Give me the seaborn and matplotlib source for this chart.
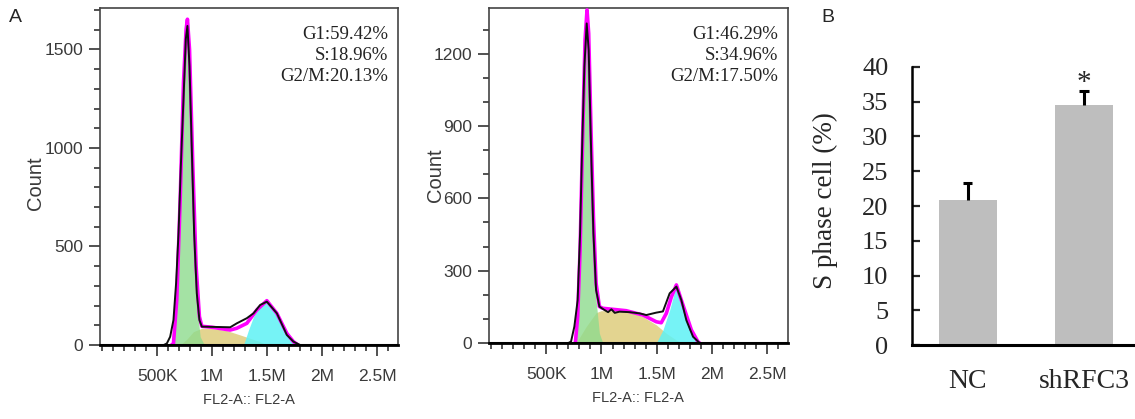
"""Cell cycle flow cytometry histograms (A) and S phase bar chart (B)."""
import numpy as np
import matplotlib

matplotlib.use("Agg")
import matplotlib.pyplot as plt
from matplotlib.ticker import MultipleLocator, FixedLocator
import seaborn as sns

sns.set_theme(style="white")
plt.rcParams["font.family"] = ["Liberation Sans", "DejaVu Sans"]

# ---- data (x in thousands of FL2-A units) ----
# NC histogram
NC_DATA_X = [-20, 560, 588, 618, 648, 672, 694, 715, 739, 760, 775, 794, 815, 836,
             860, 884, 906, 1000, 1164, 1224, 1315, 1376, 1436, 1497, 1588, 1679,
             1739, 1800, 2700]
NC_DATA_Y = [0, 0, 8, 42, 127, 314, 568, 907, 1246, 1551, 1619, 1415, 992, 568,
             263, 127, 93, 92, 90, 110, 136, 161, 203, 220, 161, 51, 17, 0, 0]
NC_FIT_X = [630, 648, 678, 709, 739, 763, 775, 794, 824, 854, 884, 906, 1000, 1164,
            1224, 1315, 1406, 1497, 1588, 1679, 1739, 1780]
NC_FIT_Y = [0, 8, 229, 737, 1330, 1602, 1653, 1500, 907, 398, 144, 95, 90, 76,
            85, 110, 178, 225, 161, 59, 17, 0]
NC_G1_X = [640, 660, 678, 709, 739, 763, 775, 794, 824, 845, 861, 891, 920, 950]
NC_G1_Y = [0, 60, 229, 737, 1330, 1602, 1650, 1500, 907, 500, 200, 42, 10, 0]
NC_S_X = [709, 770, 830, 906, 982, 1133, 1255, 1345, 1436, 1497]
NC_S_Y = [0, 30, 68, 85, 85, 73, 51, 34, 17, 0]
NC_G2_X = [1285, 1330, 1376, 1436, 1497, 1588, 1679, 1739, 1770]
NC_G2_Y = [0, 76, 144, 195, 220, 161, 59, 17, 0]
NC_STATS = ["G1:59.42%", "S:18.96%", "G2/M:20.13%"]

# shRFC3 histogram
SH_DATA_X = [-30, 700, 724, 754, 784, 806, 824, 845, 866, 884, 906, 927, 951, 981,
             1027, 1060, 1090, 1120, 1163, 1254, 1345, 1406, 1497, 1557, 1618,
             1679, 1724, 1769, 1830, 1890, 2700]
SH_DATA_Y = [0, 0, 6, 68, 178, 455, 801, 1146, 1326, 1216, 801, 455, 220, 151,
             137, 128, 140, 125, 130, 128, 123, 116, 126, 131, 206, 234, 178, 95,
             26, 0, 0]
SH_FIT_X = [763, 784, 806, 830, 851, 869, 884, 906, 927, 951, 981, 1012, 1224, 1376,
            1497, 1542, 1588, 1633, 1679, 1724, 1754, 1815, 1876, 1890]
SH_FIT_Y = [0, 109, 386, 870, 1257, 1382, 1285, 870, 524, 248, 151, 144, 134, 116,
            88, 84, 123, 190, 241, 178, 137, 54, 4, 0]
SH_G1_X = [739, 769, 784, 806, 830, 851, 869, 884, 906, 921, 951, 981, 1012]
SH_G1_Y = [0, 20, 109, 386, 870, 1257, 1370, 1285, 870, 455, 178, 40, 0]
SH_S_X = [770, 861, 952, 997, 1224, 1376, 1497, 1588, 1679, 1739]
SH_S_Y = [0, 68, 126, 134, 134, 109, 75, 40, 12, 0]
SH_G2_X = [1497, 1557, 1618, 1679, 1739, 1800, 1860, 1891]
SH_G2_Y = [0, 54, 137, 241, 165, 68, 14, 0]
SH_STATS = ["G1:46.29%", "S:34.96%", "G2/M:17.50%"]

X_TICKS = [500, 1000, 1500, 2000, 2500]
X_TICK_LABELS = ["500K", "1M", "1.5M", "2M", "2.5M"]

# panel B
GROUPS = ["NC", "shRFC3"]
S_PHASE = [20.9, 34.6]
S_PHASE_ERR = [2.4, 2.0]

GREEN, YELLOW, CYAN = "#8edb8e", "#e2d28a", "#5ef2f5"
TICK_GRAY = "#3a3a3a"


def histogram_panel(ax, data, fit, g1, s, g2, stats, ymax, ymajor, label_xy):
    ax.fill_between(s[0], s[1], color=YELLOW, lw=0, alpha=0.95, zorder=1)
    ax.fill_between(g1[0], g1[1], color=GREEN, lw=0, alpha=0.8, zorder=2)
    ax.fill_between(g2[0], g2[1], color=CYAN, lw=0, alpha=0.85, zorder=2)
    sns.lineplot(x=fit[0], y=fit[1], ax=ax, color="#ff00ff", lw=2.6,
                 estimator=None, sort=False, zorder=3)
    sns.lineplot(x=data[0], y=data[1], ax=ax, color="#111111", lw=1.4,
                 estimator=None, sort=False, zorder=4)
    ax.axhline(0, color="black", lw=2.2, zorder=5)

    ax.set_xlim(-20, 2690)
    ax.set_ylim(0, ymax)
    ax.xaxis.set_major_locator(FixedLocator(X_TICKS))
    ax.set_xticklabels(X_TICK_LABELS)
    ax.xaxis.set_minor_locator(MultipleLocator(100))
    ax.yaxis.set_major_locator(MultipleLocator(ymajor))
    ax.yaxis.set_minor_locator(MultipleLocator(100))
    ax.tick_params(which="both", direction="out", colors="#222222",
                   labelcolor=TICK_GRAY, labelsize=12.5, width=1.1,
                   bottom=True, left=True)
    ax.tick_params(which="major", length=8, pad=4)
    ax.tick_params(which="minor", length=4)
    ax.tick_params(axis="x", which="major", pad=9)
    for side in ["top", "right", "left"]:
        ax.spines[side].set_color("#444444")
        ax.spines[side].set_linewidth(1.2)
    ax.spines["bottom"].set_color("black")
    ax.spines["bottom"].set_linewidth(2)
    ax.set_xlabel("FL2-A:: FL2-A", fontsize=10.5, color=TICK_GRAY, labelpad=7)
    ax.set_ylabel("Count", fontsize=14.5, color=TICK_GRAY)
    ax.yaxis.set_label_coords(*label_xy)
    ax.text(0.966, 0.947, "\n".join(stats), transform=ax.transAxes,
            ha="right", va="top", multialignment="right", linespacing=1.3,
            fontsize=13.5, family=["Liberation Serif", "DejaVu Serif"],
            color="#222222", zorder=6)


fig = plt.figure(figsize=(11.35, 4.19), dpi=100)
ax1 = fig.add_axes([0.0881, 0.1766, 0.2626, 0.8043])
ax2 = fig.add_axes([0.4308, 0.1814, 0.2634, 0.7995])
axb = fig.add_axes([0.8035, 0.1766, 0.1965, 0.6635])

histogram_panel(ax1, (NC_DATA_X, NC_DATA_Y), (NC_FIT_X, NC_FIT_Y),
                (NC_G1_X, NC_G1_Y), (NC_S_X, NC_S_Y), (NC_G2_X, NC_G2_Y),
                NC_STATS, 1710, 500, (-0.185, 0.48))
histogram_panel(ax2, (SH_DATA_X, SH_DATA_Y), (SH_FIT_X, SH_FIT_Y),
                (SH_G1_X, SH_G1_Y), (SH_S_X, SH_S_Y), (SH_G2_X, SH_G2_Y),
                SH_STATS, 1390, 300, (-0.147, 0.5))

# panel B: S phase bar chart, error bars drawn upward only
serif = ["Liberation Serif", "DejaVu Serif"]
sns.barplot(x=GROUPS, y=S_PHASE, ax=axb, color="#bebebe", saturation=1,
            width=0.5, errorbar=None, edgecolor="none")
pos = np.arange(len(GROUPS))
tops = np.array(S_PHASE) + np.array(S_PHASE_ERR)
axb.vlines(pos, S_PHASE, tops, color="black", lw=2.2, zorder=5)
axb.hlines(tops, pos - 0.04, pos + 0.04, color="black", lw=2.2, zorder=5)
axb.text(pos[1], tops[1] + 1.1, "*", ha="center", va="center",
         fontsize=21, family=serif)
axb.set_xlim(-0.48, 1.44)
axb.set_ylim(0, 40)
axb.yaxis.set_major_locator(MultipleLocator(5))
axb.tick_params(axis="y", direction="in", length=6, width=1.6, pad=17,
                labelsize=19, left=True)
axb.tick_params(axis="x", length=0, pad=17, labelsize=20)
for lab in axb.get_xticklabels() + axb.get_yticklabels():
    lab.set_family(serif)
axb.set_ylabel("S phase cell (%)", fontsize=19.5, family=serif)
axb.yaxis.set_label_coords(-0.332, 0.52)
axb.set_xlabel("")
sns.despine(ax=axb)
axb.spines["left"].set_linewidth(1.8)
axb.spines["bottom"].set_linewidth(2.2)
axb.spines["left"].set_color("black")
axb.spines["bottom"].set_color("black")

fig.text(15 / 1135, 1 - 18 / 419, "A", fontsize=14, ha="center", va="center")
fig.text(828 / 1135, 1 - 18 / 419, "B", fontsize=14, ha="center", va="center")

fig.savefig("out.png", dpi=100)
